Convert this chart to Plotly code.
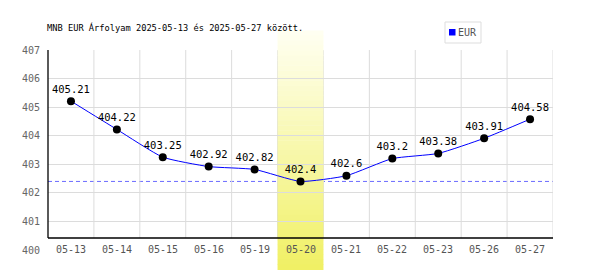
import plotly.graph_objects as go

dates = ["05-13", "05-14", "05-15", "05-16", "05-19", "05-20",
         "05-21", "05-22", "05-23", "05-26", "05-27"]
eur = [405.21, 404.22, 403.25, 402.92, 402.82, 402.4,
       402.6, 403.2, 403.38, 403.91, 404.58]
y_ticks = [400, 401, 402, 403, 404, 405, 406, 407]
highlight = "05-20"
title = "MNB EUR Árfolyam 2025-05-13 és 2025-05-27 között."
series_name = "EUR"

n = len(dates)
xs = list(range(n))
MONO = "DejaVu Sans Mono"
W, H = 600, 270
ML, MR, MT, MB = 48, 47, 50, 20
ph = H - MT - MB
pw = W - ML - MR
def py(px):  # pixel row -> paper y
    return (H - MB - px) / ph
def pxx(px):  # pixel column -> paper x
    return (px - ML) / pw

axis_y = py(238)

fig = go.Figure()
fig.add_trace(go.Scatter(
    x=xs, y=eur, mode="lines+markers+text",
    line=dict(color="#0000ff", width=1, shape="spline", smoothing=0.5),
    marker=dict(color="black", size=8),
    text=[f"{v:g}" for v in eur], textposition="top center",
    textfont=dict(family=MONO, size=10.5, color="black"),
    showlegend=False, cliponaxis=False, name=series_name,
))

shapes = []
# min dashed line
shapes.append(dict(type="line", xref="paper", yref="y", x0=0, x1=1,
                   y0=min(eur), y1=min(eur), layer="between",
                   line=dict(color="#6a6aff", width=1, dash="4px,3px")))
# vertical gridlines at category boundaries
for i in range(n):
    xb = i + 0.5
    shapes.append(dict(type="line", xref="x", yref="paper", x0=xb, x1=xb,
                       y0=axis_y, y1=1, layer="below",
                       line=dict(color="#dcdcdc", width=1)))
# highlight band gradient
hi = dates.index(highlight)
top_px, bot_px = 31, 270
steps = 48
c_top = (255, 255, 242)
c_bot = (240, 240, 100)
for k in range(steps):
    t0 = top_px + (bot_px - top_px) * k / steps
    t1 = top_px + (bot_px - top_px) * (k + 1) / steps
    f = (k + 0.5) / steps
    c = tuple(round(c_top[j] + (c_bot[j] - c_top[j]) * f) for j in range(3))
    shapes.append(dict(type="rect", xref="x", yref="paper",
                       x0=hi - 0.5, x1=hi + 0.5, y0=py(t1), y1=py(t0) + 0.002,
                       layer="between", line=dict(width=0),
                       fillcolor=f"rgb({c[0]},{c[1]},{c[2]})"))
# axis lines
shapes.append(dict(type="line", xref="paper", yref="paper", x0=0, x1=1,
                   y0=axis_y, y1=axis_y, layer="above",
                   line=dict(color="black", width=1.3)))
shapes.append(dict(type="line", xref="paper", yref="paper", x0=0, x1=0,
                   y0=axis_y, y1=1, layer="above",
                   line=dict(color="black", width=1.3)))
# legend box
shapes.append(dict(type="rect", xref="paper", yref="paper", x0=pxx(445), x1=pxx(481),
                   y0=py(43), y1=py(22), line=dict(color="#dddddd", width=1),
                   fillcolor="white"))
shapes.append(dict(type="rect", xref="paper", yref="paper", x0=pxx(449), x1=pxx(455.5),
                   y0=py(35.5), y1=py(29), line=dict(width=0),
                   fillcolor="#0000ff"))

annotations = []
for i, d in enumerate(dates):
    annotations.append(dict(x=i, y=y_ticks[0], xref="x", yref="y", text=d,
                            showarrow=False, yanchor="middle", yshift=1,
                            font=dict(family=MONO, size=10, color="#555555")))
annotations.append(dict(x=pxx(456), y=py(32.5), xref="paper",
                        yref="paper", text=series_name, showarrow=False,
                        xanchor="left", yanchor="middle",
                        font=dict(family=MONO, size=10, color="#555555")))
annotations.append(dict(x=pxx(45), y=py(27), xref="paper", yref="paper",
                        text=title, showarrow=False, xanchor="left",
                        yanchor="middle",
                        font=dict(family=MONO, size=8.7, color="black")))

fig.update_layout(
    width=W, height=H, margin=dict(l=ML, r=MR, t=MT, b=MB, pad=0),
    paper_bgcolor="white", plot_bgcolor="white",
    shapes=shapes, annotations=annotations, showlegend=False,
    xaxis=dict(range=[-0.5, n - 0.5], showgrid=False, zeroline=False,
               showticklabels=False, showline=False, fixedrange=True),
    yaxis=dict(range=[y_ticks[0], y_ticks[-1]], tickvals=y_ticks,
               ticktext=[str(v) for v in y_ticks],
               showgrid=True, gridcolor="#dcdcdc", gridwidth=1,
               zeroline=False, showline=False, ticks="outside", ticklen=0,
               ticklabelstandoff=5,
               tickfont=dict(family=MONO, size=10, color="#666666")),
)
fig.write_html("out.html")
